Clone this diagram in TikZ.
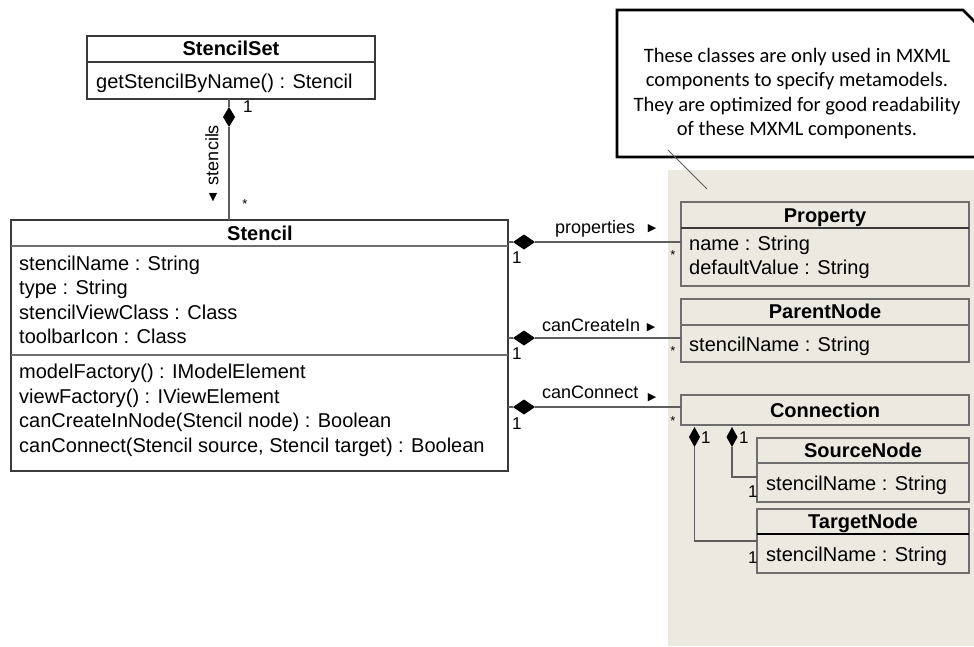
\documentclass[tikz,border=0pt]{standalone}
\usepackage{fontspec}
\setmainfont{Liberation Sans}
\newfontfamily\notefont{Carlito}
\newfontfamily\symfont{DejaVu Sans}
\usetikzlibrary{shapes.geometric}

\definecolor{panelbg}{HTML}{ECE9E0}
\definecolor{boxdark}{HTML}{3A3A3A}
\definecolor{boxgray}{HTML}{6E6E6E}
\definecolor{linegray}{HTML}{5E5E5E}

\begin{document}
\begin{tikzpicture}[x=1pt,y=-1pt,
  box/.style={draw=boxdark, fill=white, line width=1.2pt, anchor=north west, inner sep=0pt, outer sep=0pt},
  pbox/.style={box, draw=boxgray, fill=panelbg},
  rule/.style={draw=boxgray, line width=1.1pt},
  hd/.style={font=\bfseries\fontsize{20}{24}\selectfont, anchor=base, inner sep=0pt},
  tx/.style={font=\fontsize{20}{24}\selectfont, anchor=base west, inner sep=0pt},
  note/.style={font=\notefont\fontsize{20.5}{24.5}\selectfont, anchor=base, inner sep=0pt},
  lbl/.style={font=\fontsize{18}{22}\selectfont, anchor=base west, inner sep=0pt},
  mult/.style={font=\fontsize{17}{20}\selectfont, anchor=base west, inner sep=0pt},
  many/.style={font=\fontsize{13}{15}\selectfont, inner sep=0pt},
  tri/.style={font=\symfont\fontsize{11}{13}\selectfont, inner sep=0pt},
  conn/.style={draw=linegray, line width=1.2pt},
  comp/.style 2 args={diamond, fill=black, inner sep=0pt, outer sep=0pt, minimum width=#1, minimum height=#2},
]
\useasboundingbox (0,0) rectangle (974,646);

% shaded region holding the MXML-only classes
\fill[panelbg] (668,170) rectangle (974,646);

% note callout with cut corner
\begin{scope}
  \clip (0,0) rectangle (974,646);
  \draw[line width=2.6pt, fill=white, line join=miter]
    (617,10) -- (963,10) -- (995,42) -- (995,157) -- (617,157) -- cycle;
\end{scope}
\node[note] (note1) at (797,62) {These classes are only used in MXML};
\node[note] (note2) at (797,86.5) {components to specify metamodels.};
\node[note] (note3) at (797,111) {They are optimized for good readability};
\node[note] (note4) at (797,135.5) {of these MXML components.};
\coordinate (noteTip) at (668,150);
\coordinate (panelPt) at (707,189);
\draw[draw=linegray, line width=0.8pt] (noteTip) -- (panelPt);

% ---- StencilSet ----
\node[box, minimum width=288pt, minimum height=63pt] (stencilset) at (87,36) {};
\draw[rule, draw=boxdark] ([yshift=-26pt]stencilset.north west) -- ([yshift=-26pt]stencilset.north east);
\node[hd] (ssTitle) at (231,55) {StencilSet};
\node[tx] (ssM1) at (96,88) {getStencilByName() : Stencil};

% ---- Stencil ----
\node[box, minimum width=497pt, minimum height=251pt] (stencil) at (11,220) {};
\draw[rule] ([yshift=-26pt]stencil.north west) -- ([yshift=-26pt]stencil.north east);
\draw[rule] ([yshift=-135pt]stencil.north west) -- ([yshift=-135pt]stencil.north east);
\node[hd] (stTitle) at (260,240) {Stencil};
\node[tx] (stA1) at (19,270) {stencilName : String};
\node[tx] (stA2) at (19,294) {type : String};
\node[tx] (stA3) at (19,319) {stencilViewClass : Class};
\node[tx] (stA4) at (19,343) {toolbarIcon : Class};
\node[tx] (stM1) at (19,378) {modelFactory() : IModelElement};
\node[tx] (stM2) at (19,403) {viewFactory() : IViewElement};
\node[tx] (stM3) at (19,427) {canCreateInNode(Stencil node) : Boolean};
\node[tx] (stM4) at (19,452) {canConnect(Stencil source, Stencil target) : Boolean};

% ---- Property ----
\node[pbox, minimum width=288pt, minimum height=84pt] (prop) at (681,202) {};
\draw[rule, draw=boxdark] ([yshift=-26pt]prop.north west) -- ([yshift=-26pt]prop.north east);
\node[hd] (propTitle) at (825,222) {Property};
\node[tx] (propA1) at (689,250) {name : String};
\node[tx] (propA2) at (689,274) {defaultValue : String};

% ---- ParentNode ----
\node[pbox, minimum width=288pt, minimum height=63pt] (parent) at (681,299) {};
\draw[rule] ([yshift=-26pt]parent.north west) -- ([yshift=-26pt]parent.north east);
\node[hd] (parTitle) at (825,318) {ParentNode};
\node[tx] (parA1) at (689,351) {stencilName : String};

% ---- Connection ----
\node[pbox, minimum width=288pt, minimum height=30pt] (connection) at (681,395) {};
\node[hd] (conTitle) at (825,417) {Connection};

% ---- SourceNode ----
\node[pbox, minimum width=212pt, minimum height=64pt] (source) at (757,438) {};
\draw[rule] ([yshift=-25pt]source.north west) -- ([yshift=-25pt]source.north east);
\node[hd] (srcTitle) at (863,457) {SourceNode};
\node[tx] (srcA1) at (766,490) {stencilName : String};

% ---- TargetNode ----
\node[pbox, minimum width=212pt, minimum height=64pt] (target) at (757,509) {};
\draw[rule, draw=black] ([yshift=-25pt]target.north west) -- ([yshift=-25pt]target.north east);
\node[hd] (tgtTitle) at (863,528) {TargetNode};
\node[tx] (tgtA1) at (766,561) {stencilName : String};

% ---- StencilSet <>-- Stencil ----
\node[comp={12pt}{20pt}] (dSet) at (229,117) {};
\draw[conn] (dSet.north) -- (dSet |- stencilset.south);
\draw[conn] (dSet.south) -- (dSet |- stencil.north);
\node[mult] (mSet1) at (243,112) {1};
\node[many] (mSetMany) at (245,204) {*};
\node[font=\fontsize{18}{22}\selectfont, inner sep=0pt, rotate=90] (lStencils) at (212,155) {stencils};
\node[tri] (aStencils) at (213,198) {▼};

% ---- Stencil <>-- Property ----
\node[comp={22pt}{15pt}] (dProp) at (524,242) {};
\draw[conn] (dProp.west) -- (dProp -| stencil.east);
\draw[conn] (dProp.east) -- (dProp -| prop.west);
\node[mult] (mProp1) at (512,263) {1};
\node[many] (mPropMany) at (673,255) {*};
\node[lbl] (lProp) at (555,233) {properties};
\node[tri] (aProp) at (652,229) {▶};

% ---- Stencil <>-- ParentNode ----
\node[comp={22pt}{15pt}] (dParent) at (524,338) {};
\draw[conn] (dParent.west) -- (dParent -| stencil.east);
\draw[conn] (dParent.east) -- (dParent -| parent.west);
\node[mult] (mPar1) at (512,359) {1};
\node[many] (mParMany) at (673,351) {*};
\node[lbl] (lParent) at (542,331) {canCreateIn};
\node[tri] (aParent) at (651,328) {▶};

% ---- Stencil <>-- Connection ----
\node[comp={22pt}{15pt}] (dConn) at (524,407) {};
\draw[conn] (dConn.west) -- (dConn -| stencil.east);
\draw[conn] (dConn.east) -- (dConn -| connection.west);
\node[mult] (mCon1) at (512,429) {1};
\node[many] (mConMany) at (673,421) {*};
\node[lbl] (lConn) at (542,398) {canConnect};
\node[tri] (aConn) at (652,398) {▶};

% ---- Connection <>-- SourceNode / TargetNode ----
\node[comp={11pt}{20pt}] (dTgt) at (694.5,437) {};
\node[comp={11pt}{20pt}] (dSrc) at (732,437) {};
\draw[conn] (dSrc.south) |- ([yshift=-7pt]source.west);
\draw[conn] (dTgt.south) |- (target.west);
\node[mult] (mTgtA) at (701,443) {1};
\node[mult] (mSrcA) at (739,443) {1};
\node[mult] (mSrcB) at (748,497) {1};
\node[mult] (mTgtB) at (748,563) {1};
\end{tikzpicture}
\end{document}
